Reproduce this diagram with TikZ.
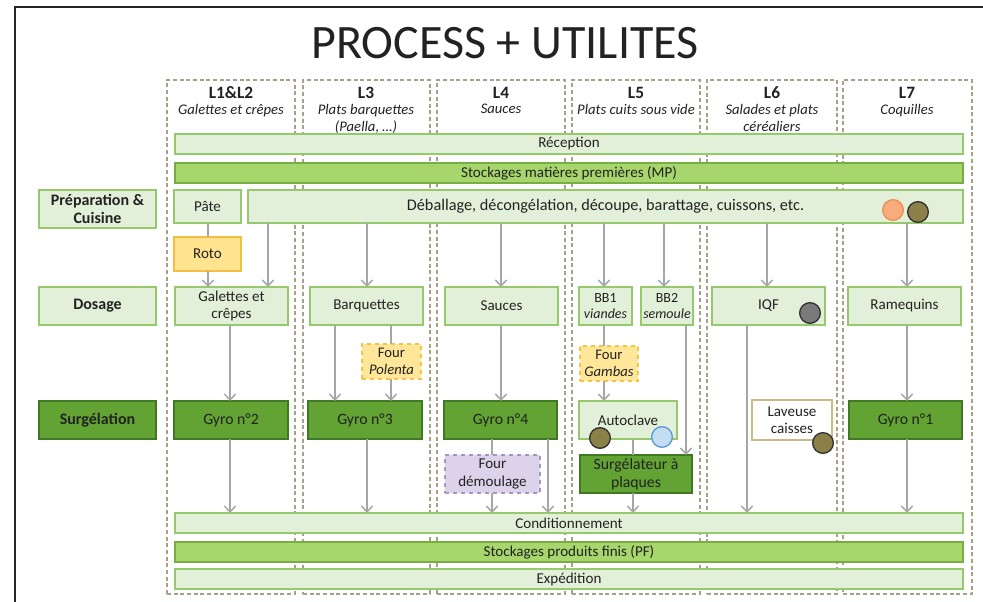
\documentclass[tikz,border=0pt]{standalone}
\usepackage{fontspec}
\setmainfont{Carlito}
\usetikzlibrary{arrows.meta}
\definecolor{lgfill}{HTML}{E3F0D9}
\definecolor{lgline}{HTML}{96C86C}
\definecolor{mgfill}{HTML}{A6D66C}
\definecolor{mgline}{HTML}{76AE44}
\definecolor{dgfill}{HTML}{62A334}
\definecolor{dgline}{HTML}{3F7A22}
\definecolor{txt}{HTML}{222222}
\definecolor{colline}{HTML}{A8A188}
\definecolor{arrgray}{HTML}{A6A6A6}
\definecolor{yfill}{HTML}{FFE38F}
\definecolor{yline}{HTML}{F4BD45}
\definecolor{pfill}{HTML}{FFE699}
\definecolor{pline}{HTML}{F6C342}
\definecolor{vfill}{HTML}{DCD2EA}
\definecolor{vline}{HTML}{A895C8}
\definecolor{wline}{HTML}{C8BC86}
\definecolor{orfill}{HTML}{F8AC7C}
\definecolor{orline}{HTML}{E98F58}
\definecolor{olfill}{HTML}{8B8047}
\definecolor{grfill}{HTML}{7A7A7A}
\definecolor{blfill}{HTML}{C5DDF2}
\definecolor{blline}{HTML}{5B9BD5}
\newcommand\bx[7]{\node[#6, minimum width={(#4-#2)*0.75pt}, minimum height={(#5-#3)*0.75pt}] (#1) at ({(#2+#4)/2},{(#3+#5)/2}) {#7};}
\tikzset{
  base/.style={rectangle, inner sep=0pt, outer sep=0pt, line width=1.1pt, align=center, text=txt, font=\fontsize{11.3}{13}\selectfont},
  lgbox/.style={base, fill=lgfill, draw=lgline},
  mgbox/.style={base, fill=mgfill, draw=mgline},
  dgbox/.style={base, fill=dgfill, draw=dgline, font=\fontsize{11.8}{13.5}\selectfont},
  bigtxt/.style={font=\fontsize{12.2}{14}\selectfont},
  smalltxt/.style={font=\fontsize{10.5}{12.5}\selectfont},
  lblbox/.style={lgbox, font=\fontsize{12}{13.5}\selectfont\bfseries},
  dlblbox/.style={dgbox, font=\fontsize{12}{13.5}\selectfont\bfseries},
  rotobox/.style={base, fill=yfill, draw=yline},
  fourbox/.style={base, fill=pfill, draw=pline, dashed, font=\fontsize{11}{12.5}\selectfont},
  violbox/.style={base, fill=vfill, draw=vline, dashed},
  whitebox/.style={base, fill=white, draw=wline},
  colbox/.style={rectangle, inner sep=0pt, outer sep=0pt, draw=colline, line width=0.9pt, dash pattern=on 3pt off 2pt},
  hdr/.style={text=txt, font=\fontsize{13}{15}\selectfont\bfseries, inner sep=0pt},
  sub/.style={text=txt, font=\fontsize{11}{13}\selectfont\itshape, inner sep=0pt, align=center},
  arr/.style={draw=arrgray, line width=1.1pt, -{Straight Barb[length=4.5pt,width=8.5pt]}},
  ln/.style={draw=arrgray, line width=1.1pt},
  dot/.style={circle, minimum size=15.5pt, inner sep=0pt, line width=1pt},
}
\begin{document}
\begin{tikzpicture}[x=0.75pt,y=-0.75pt]
\useasboundingbox (0,0) rectangle (983,602);
\fill[white] (0,0) rectangle (983,602);
\draw[line width=1.6pt, black!85] (15,602) -- (15,7) -- (983,7);
\node[font=\fontsize{36}{40}\selectfont, text=txt] (title) at (505,43) {PROCESS + UTILITES};
% columns
\bx{c1}{167}{80}{295}{594}{colbox}{}
\bx{c2}{303}{80}{430}{594}{colbox}{}
\bx{c3}{437}{80}{565}{594}{colbox}{}
\bx{c4}{572}{80}{700}{594}{colbox}{}
\bx{c5}{707}{80}{837}{594}{colbox}{}
\bx{c6}{843}{80}{972}{594}{colbox}{}
\node[hdr] (h1) at (231,93) {L1\&L2};
\node[hdr] (h2) at (366,93) {L3};
\node[hdr] (h3) at (501,93) {L4};
\node[hdr] (h4) at (636,93) {L5};
\node[hdr] (h5) at (772,93) {L6};
\node[hdr] (h6) at (907,93) {L7};
\node[sub, anchor=north] (s1) at (231,104) {Galettes et crêpes};
\node[sub, anchor=north] (s2) at (366,104) {Plats barquettes\\(Paella, …)};
\node[sub, anchor=north] (s3) at (501,104) {Sauces};
\node[sub, anchor=north] (s4) at (636,104) {Plats cuits sous vide};
\node[sub, anchor=north] (s5) at (772,104) {Salades et plats\\céréaliers};
\node[sub, anchor=north] (s6) at (907,104) {Coquilles};
% row labels
\bx{lprep}{39}{190}{156}{228}{lblbox}{Préparation \&\\Cuisine}
\bx{ldos}{39}{287}{156}{325}{lblbox}{Dosage}
\bx{lsurg}{39}{401}{156}{439}{dlblbox}{Surgélation}
% bars
\bx{rec}{175}{134}{963}{154}{lgbox}{Réception}
\bx{smp}{175}{163}{963}{183}{mgbox}{Stockages matières premières (MP)}
\bx{pate}{174}{190}{241}{223}{lgbox}{Pâte}
\bx{deb}{248}{190}{963}{223}{lgbox, bigtxt}{Déballage, décongélation, découpe, barattage, cuissons, etc.}
\bx{roto}{174}{237}{241}{271}{rotobox}{Roto}
% dosage
\bx{gal}{175}{287}{288}{325}{lgbox}{Galettes et\\crêpes}
\bx{barq}{310}{287}{423}{325}{lgbox}{Barquettes}
\bx{sau}{445}{287}{558}{325}{lgbox}{Sauces}
\bx{bb1}{579}{287}{632}{325}{lgbox, smalltxt}{BB1\\\textit{viandes}}
\bx{bb2}{641}{287}{693}{325}{lgbox, smalltxt}{BB2\\\textit{semoule}}
\bx{iqf}{712}{287}{825}{325}{lgbox}{IQF}
\bx{ram}{848}{287}{961}{325}{lgbox}{Ramequins}
% fours
\bx{pol}{362}{344}{421}{379}{fourbox}{Four\\\textit{Polenta}}
\bx{gam}{580}{346}{638}{381}{fourbox}{Four\\\textit{Gambas}}
% surgelation
\bx{g2}{174}{401}{288}{439}{dgbox}{Gyro n°2}
\bx{g3}{308}{401}{422}{439}{dgbox}{Gyro n°3}
\bx{g4}{444}{401}{557}{439}{dgbox}{Gyro n°4}
\bx{auto}{579}{401}{677}{439}{lgbox}{Autoclave}
\bx{lav}{752}{400}{832}{440}{whitebox}{Laveuse\\caisses}
\bx{g1}{849}{401}{962}{439}{dgbox}{Gyro n°1}
\bx{dem}{445}{455}{540}{493}{violbox}{Four\\démoulage}
\bx{surg}{580}{455}{692}{493}{dgbox}{Surgélateur à\\plaques}
% bottom bars
\bx{cond}{175}{513}{963}{533}{lgbox}{Conditionnement}
\bx{spf}{175}{542}{963}{562}{mgbox}{Stockages produits finis (PF)}
\bx{exp}{175}{569}{963}{589}{lgbox}{Expédition}
% dots
\node[dot, fill=orfill, draw=orline] (d1) at (893,210) {};
\node[dot, fill=olfill, draw=black!80] (d2) at (918,212) {};
\node[dot, fill=grfill, draw=black!80] (d3) at (810,313) {};
\node[dot, fill=olfill, draw=black!80] (d4) at (600,438) {};
\node[dot, fill=blfill, draw=blline] (d5) at (662,437) {};
\node[dot, fill=olfill, draw=black!80] (d6) at (823,443) {};
% arrow x positions
\coordinate (x208) at (208,0);
\coordinate (x230) at (230,0);
\coordinate (x268) at (268,0);
\coordinate (x335) at (335,0);
\coordinate (x367) at (367,0);
\coordinate (x391) at (391,0);
\coordinate (x492) at (492,0);
\coordinate (x501) at (501,0);
\coordinate (x548) at (548,0);
\coordinate (x604) at (604,0);
\coordinate (x633) at (633,0);
\coordinate (x664) at (664,0);
\coordinate (x686) at (686,0);
\coordinate (x747) at (747,0);
\coordinate (x767) at (767,0);
\coordinate (x907) at (907,0);
% arrows
\draw[ln] (pate.south -| x208) -- (roto.north -| x208);
\draw[arr] (roto.south -| x208) -- (gal.north -| x208);
\draw[arr] (deb.south -| x268) -- (gal.north -| x268);
\draw[arr] (deb.south -| x367) -- (barq.north -| x367);
\draw[arr] (deb.south -| x501) -- (sau.north -| x501);
\draw[arr] (deb.south -| x604) -- (bb1.north -| x604);
\draw[arr] (deb.south -| x664) -- (bb2.north -| x664);
\draw[arr] (deb.south -| x767) -- (iqf.north -| x767);
\draw[arr] (deb.south -| x907) -- (ram.north -| x907);
\draw[arr] (gal.south -| x230) -- (g2.north -| x230);
\draw[arr] (barq.south -| x335) -- (g3.north -| x335);
\draw[ln] (barq.south -| x391) -- (pol.north -| x391);
\draw[arr] (pol.south -| x391) -- (g3.north -| x391);
\draw[arr] (sau.south -| x501) -- (g4.north -| x501);
\draw[ln] (bb1.south -| x604) -- (gam.north -| x604);
\draw[arr] (gam.south -| x604) -- (auto.north -| x604);
\draw[arr] (bb2.south -| x686) -- (surg.north -| x686);
\draw[arr] (iqf.south -| x747) -- (cond.north -| x747);
\draw[arr] (ram.south -| x907) -- (g1.north -| x907);
\draw[arr] (g2.south -| x230) -- (cond.north -| x230);
\draw[arr] (g3.south -| x367) -- (cond.north -| x367);
\draw[ln] (g4.south -| x492) -- (dem.north -| x492);
\draw[arr] (dem.south -| x492) -- (cond.north -| x492);
\draw[arr] (g4.south -| x548) -- (cond.north -| x548);
\draw[ln] (auto.south -| x633) -- (surg.north -| x633);
\draw[arr] (surg.south -| x633) -- (cond.north -| x633);
\draw[arr] (g1.south -| x907) -- (cond.north -| x907);
\end{tikzpicture}
\end{document}
